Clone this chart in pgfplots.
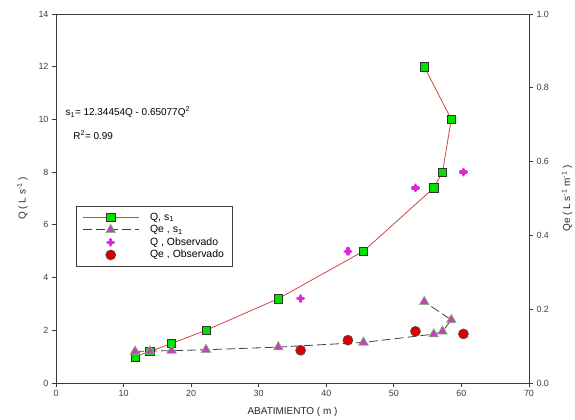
\documentclass[border=0pt]{standalone}
\usepackage{pgfplots}
\pgfplotsset{compat=1.18}
\usepackage{fontspec}
\setmainfont{Liberation Sans}
\definecolor{sqgreen}{RGB}{0,225,0}
\definecolor{lnred}{RGB}{205,70,70}
\definecolor{trimag}{RGB}{200,60,200}
\definecolor{triedge}{RGB}{120,200,110}
\definecolor{obsmag}{RGB}{220,40,220}
\definecolor{circred}{RGB}{220,0,0}
\definecolor{axgray}{RGB}{60,60,60}
\pgfplotsset{
  myaxis/.style={
    scale only axis, width=473bp, height=369bp,
    xmin=0, xmax=70,
    axis line style={axgray, line width=0.9bp},
    tick style={axgray, line width=0.8bp, major tick length=4bp},
    tick align=outside,
    tick label style={font=\fontsize{9}{10}\selectfont, text=black!75},
    /pgf/number format/assume math mode=true,
    label style={font=\fontsize{10}{12}\selectfont, text=black!85},
    legend image code/.code={%
      \draw[mark repeat=2,mark phase=2,#1] plot coordinates {(0bp,0bp) (28bp,0bp) (56bp,0bp)};},
  },
  Qs/.style={lnred, line width=0.8bp, mark=square*, mark size=4.2bp,
    mark options={solid, fill=sqgreen, draw=black!80, line width=0.6bp}},
  Qes/.style={black!75, line width=0.8bp, dash pattern=on 9bp off 4bp, mark=triangle*, mark size=5.6bp,
    mark options={solid, fill=trimag, draw=triedge, line width=0.6bp}},
  Qobs/.style={only marks, mark=+, mark size=2.8bp,
    mark options={obsmag, line width=3.4bp, line cap=round}},
  Qeobs/.style={only marks, mark=*, mark size=5bp,
    mark options={fill=circred, draw=black!70, line width=0.6bp}},
}
\begin{document}
\begin{tikzpicture}
\begin{axis}[myaxis,
  ymin=0, ymax=14,
  axis x line*=bottom, axis y line*=left,
  xtick={0,10,...,70}, ytick={0,2,...,14},
  xlabel={ABATIMIENTO ( m )},
  ylabel={Q ( L s\textsuperscript{-1} )},
  xlabel style={yshift=-4bp},
  ylabel style={yshift=4bp},
  clip=false,
]
\draw[axgray, line width=0.9bp] (rel axis cs:0,1) -- (rel axis cs:1,1);
\addplot[Qs] coordinates {
(11.7,1.0) (13.9,1.2) (17.1,1.5) (22.2,2.0) (32.9,3.2) (45.5,5.0)
(55.9,7.4) (57.2,8.0) (58.5,10.0) (54.5,12.0)};
\addplot[Qobs] coordinates {(36.2,3.2) (43.2,5.0) (53.2,7.4) (60.3,8.0)};
\node[anchor=west, font=\fontsize{10}{12}\selectfont, inner sep=0pt] at (axis cs:1.4,10.27)
  {s\textsubscript{1}= 12.34454Q - 0.65077Q\textsuperscript{2}};
\node[anchor=west, font=\fontsize{10}{12}\selectfont, inner sep=0pt] at (axis cs:2.55,9.4)
  {R\textsuperscript{2}= 0.99};
\end{axis}
\begin{axis}[myaxis,
  ymin=0, ymax=1,
  axis x line=none, axis y line*=right,
  ytick={0,0.2,...,1.0},
  yticklabel style={/pgf/number format/.cd, fixed, fixed zerofill, precision=1},
  ylabel={Qe ( L s\textsuperscript{-1} m\textsuperscript{-1} )},
  ylabel style={yshift=-6bp},
  legend style={at={(rel axis cs:0.0423,0.4805)}, anchor=north west,
    draw=black!75, line width=0.6bp, font=\fontsize{10.5}{12}\selectfont,
    row sep=-0.4bp, inner xsep=6bp, inner ysep=5bp,
    /tikz/every odd column/.append style={column sep=9bp}},
  legend cell align=left,
]
\addlegendimage{Qs}
\addlegendentry{Q, s\textsubscript{1}}
\addplot[Qes] coordinates {
(11.7,0.0855) (13.9,0.0864) (17.1,0.0877) (22.2,0.0901) (32.9,0.0973) (45.5,0.110)
(55.9,0.1324) (57.2,0.140) (58.5,0.171) (54.5,0.220)};
\addlegendentry{Qe , s\textsubscript{1}}
\addlegendimage{Qobs}
\addlegendentry{Q , Observado}
\addplot[Qeobs] coordinates {(36.2,0.0886) (43.2,0.116) (53.2,0.140) (60.3,0.133)};
\addlegendentry{Qe , Observado}
\end{axis}
\pgfresetboundingbox
\useasboundingbox (-56bp,-37bp) rectangle (519bp,383bp);
\end{tikzpicture}
\end{document}
